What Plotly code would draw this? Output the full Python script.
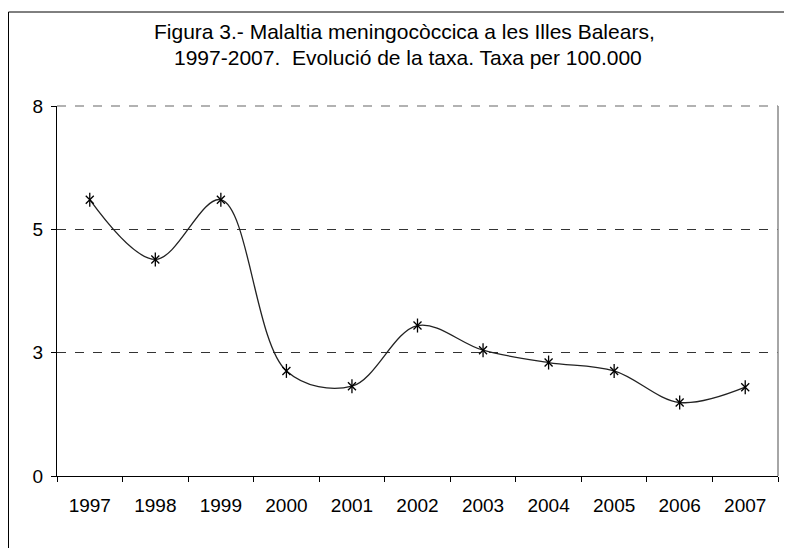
import plotly.graph_objects as go

years = ["1997", "1998", "1999", "2000", "2001", "2002", "2003", "2004", "2005", "2006", "2007"]
taxa = [5.6, 4.39, 5.6, 2.13, 1.82, 3.05, 2.55, 2.30, 2.13, 1.49, 1.80]
y_tickvals = [0, 2.5, 5, 7.5]
y_ticktext = ["0", "3", "5", "8"]
title_line1 = "Figura 3.- Malaltia meningocòccica a les Illes Balears,"
title_line2 = "1997-2007. \u00a0Evolució de la taxa. Taxa per 100.000"

FONT = "Liberation Sans, Arial, sans-serif"
# page has an 8px body margin, so the figure is placed at (8, 8)
OFF = 8
W, H = 792 - OFF, 548 - OFF
L, R, T, B = 57 - OFF, 778 - OFF, 106 - OFF, 476 - OFF  # plot area in figure pixels

def px(x):
    return (x - OFF - L) / (R - L)

def py(y):
    return (B - (y - OFF)) / (B - T)

fig = go.Figure()
fig.add_trace(go.Scatter(
    x=years, y=taxa, mode="lines",
    line=dict(color="#222222", width=1.3, shape="spline", smoothing=1.0),
    hoverinfo="skip", showlegend=False))
fig.add_trace(go.Scatter(
    x=years, y=taxa, mode="markers",
    marker=dict(symbol="x-thin-open", size=8, color="black",
                line=dict(color="black", width=1.3)),
    showlegend=False))
fig.add_trace(go.Scatter(
    x=years, y=taxa, mode="markers",
    marker=dict(symbol="line-ns-open", size=10, color="black",
                line=dict(color="black", width=1.3)),
    showlegend=False))

fig.update_layout(
    width=W, height=H,
    margin=dict(l=L, r=W - R, t=T, b=H - B),
    paper_bgcolor="white", plot_bgcolor="white",
    font=dict(family=FONT, size=19, color="black"),
    showlegend=False,
    xaxis=dict(
        type="category", range=[-0.5, 10.5],
        showline=True, linecolor="black", linewidth=1,
        ticks="outside", tickson="boundaries", ticklen=5, tickcolor="black",
        showgrid=False, zeroline=False,
        tickfont=dict(family=FONT, size=19),
        ticklabelstandoff=12,
    ),
    yaxis=dict(
        range=[0, 7.5], tickvals=y_tickvals, ticktext=y_ticktext,
        showline=True, linecolor="black", linewidth=1,
        ticks="outside", ticklen=5, tickcolor="black",
        showgrid=True, gridcolor="#333333", griddash="dash", gridwidth=1,
        zeroline=False,
        tickfont=dict(family=FONT, size=19),
        ticklabelstandoff=4,
    ),
    shapes=[
        dict(type="line", xref="paper", yref="paper", x0=1, x1=1, y0=0, y1=1,
             line=dict(color="#888888", width=1.5)),
        dict(type="line", xref="paper", yref="paper", x0=0, x1=1, y0=1, y1=1,
             line=dict(color="#999999", width=1.5, dash="dash")),
        dict(type="rect", xref="paper", yref="paper",
             x0=px(8.5), x1=px(805), y0=py(12), y1=py(560),
             line=dict(color="black", width=1), fillcolor="rgba(0,0,0,0)", layer="below"),
    ],
    annotations=[
        dict(text=title_line1, xref="paper", yref="paper", x=px(404.7), y=py(31.3),
             xanchor="center", yanchor="middle", showarrow=False,
             font=dict(family=FONT, size=21, color="black")),
        dict(text=title_line2, xref="paper", yref="paper", x=px(407.5), y=py(57),
             xanchor="center", yanchor="middle", showarrow=False,
             font=dict(family=FONT, size=21, color="black")),
    ],
)

fig.write_html("out.html")
